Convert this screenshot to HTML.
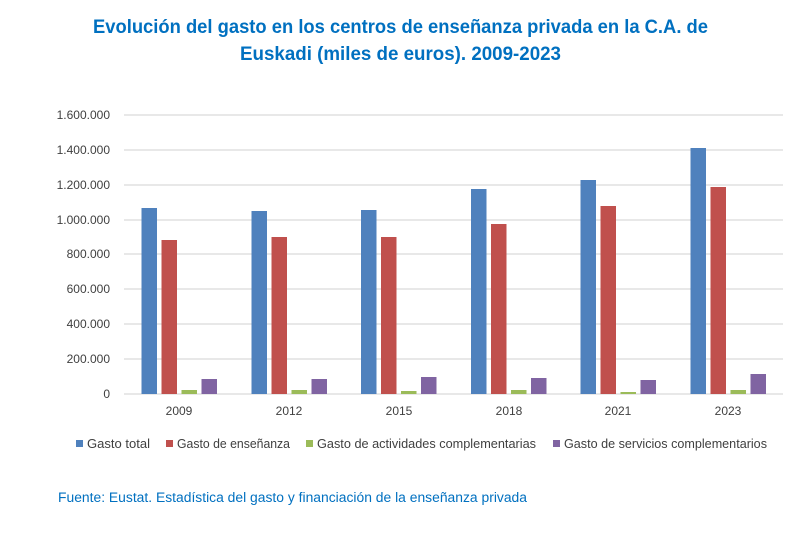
<!DOCTYPE html>
<html><head><meta charset="utf-8"><style>
html,body{margin:0;padding:0;background:#fff;}
svg{display:block;font-family:"Liberation Sans",sans-serif;}
</style></head><body>
<svg width="800" height="538" xmlns="http://www.w3.org/2000/svg">
<rect width="800" height="538" fill="#fff"/>
<text x="93" y="33" textLength="615" lengthAdjust="spacingAndGlyphs" font-size="19.5" font-weight="bold" fill="#0070c0">Evolución del gasto en los centros de enseñanza privada en la C.A. de</text>
<text x="240" y="60" textLength="321" lengthAdjust="spacingAndGlyphs" font-size="19.5" font-weight="bold" fill="#0070c0">Euskadi (miles de euros). 2009-2023</text>
<g stroke="#d9d9d9" stroke-width="1.3">
<line x1="124" x2="783" y1="115" y2="115"/><line x1="124" x2="783" y1="150" y2="150"/>
<line x1="124" x2="783" y1="185" y2="185"/><line x1="124" x2="783" y1="220" y2="220"/>
<line x1="124" x2="783" y1="254" y2="254"/><line x1="124" x2="783" y1="289" y2="289"/>
<line x1="124" x2="783" y1="324" y2="324"/><line x1="124" x2="783" y1="359" y2="359"/>
<line x1="124" x2="783" y1="394" y2="394"/>
</g>
<g font-size="12" fill="#404040" text-anchor="end">
<text x="110" y="119">1.600.000</text><text x="110" y="154">1.400.000</text>
<text x="110" y="189">1.200.000</text><text x="110" y="224">1.000.000</text>
<text x="110" y="258">800.000</text><text x="110" y="293">600.000</text>
<text x="110" y="328">400.000</text><text x="110" y="363">200.000</text>
<text x="110" y="398">0</text>
</g>
<g>
<rect x="141.5" y="208" width="15.5" height="186" fill="#4f81bd"/><rect x="161.5" y="240" width="15.5" height="154" fill="#c0504d"/><rect x="181.5" y="390" width="15.5" height="4" fill="#9bbb59"/><rect x="201.5" y="379" width="15.5" height="15" fill="#8064a2"/>
<rect x="251.5" y="211" width="15.5" height="183" fill="#4f81bd"/><rect x="271.5" y="237" width="15.5" height="157" fill="#c0504d"/><rect x="291.5" y="390" width="15.5" height="4" fill="#9bbb59"/><rect x="311.5" y="379" width="15.5" height="15" fill="#8064a2"/>
<rect x="361" y="210" width="15.5" height="184" fill="#4f81bd"/><rect x="381" y="237" width="15.5" height="157" fill="#c0504d"/><rect x="401" y="391" width="15.5" height="3" fill="#9bbb59"/><rect x="421" y="377" width="15.5" height="17" fill="#8064a2"/>
<rect x="471" y="189" width="15.5" height="205" fill="#4f81bd"/><rect x="491" y="224" width="15.5" height="170" fill="#c0504d"/><rect x="511" y="390" width="15.5" height="4" fill="#9bbb59"/><rect x="531" y="378" width="15.5" height="16" fill="#8064a2"/>
<rect x="580.5" y="180" width="15.5" height="214" fill="#4f81bd"/><rect x="600.5" y="206" width="15.5" height="188" fill="#c0504d"/><rect x="620.5" y="392" width="15.5" height="2" fill="#9bbb59"/><rect x="640.5" y="380" width="15.5" height="14" fill="#8064a2"/>
<rect x="690.5" y="148" width="15.5" height="246" fill="#4f81bd"/><rect x="710.5" y="187" width="15.5" height="207" fill="#c0504d"/><rect x="730.5" y="390" width="15.5" height="4" fill="#9bbb59"/><rect x="750.5" y="374" width="15.5" height="20" fill="#8064a2"/>
</g>
<g font-size="12" fill="#404040" text-anchor="middle">
<text x="179" y="415">2009</text><text x="289" y="415">2012</text><text x="399" y="415">2015</text>
<text x="509" y="415">2018</text><text x="618" y="415">2021</text><text x="728" y="415">2023</text>
</g>
<g font-size="12.5" fill="#404040">
<rect x="76" y="440" width="7" height="7" fill="#4f81bd"/><text x="87" y="448" textLength="63" lengthAdjust="spacingAndGlyphs">Gasto total</text>
<rect x="166" y="440" width="7" height="7" fill="#c0504d"/><text x="177" y="448" textLength="113" lengthAdjust="spacingAndGlyphs">Gasto de enseñanza</text>
<rect x="306" y="440" width="7" height="7" fill="#9bbb59"/><text x="317" y="448" textLength="219" lengthAdjust="spacingAndGlyphs">Gasto de actividades complementarias</text>
<rect x="553" y="440" width="7" height="7" fill="#8064a2"/><text x="564" y="448" textLength="203" lengthAdjust="spacingAndGlyphs">Gasto de servicios complementarios</text>
</g>
<text x="58" y="502" font-size="13.5" textLength="469" lengthAdjust="spacingAndGlyphs" fill="#0070c0">Fuente: Eustat. Estadística del gasto y financiación de la enseñanza privada</text>
</svg>
</body></html>
